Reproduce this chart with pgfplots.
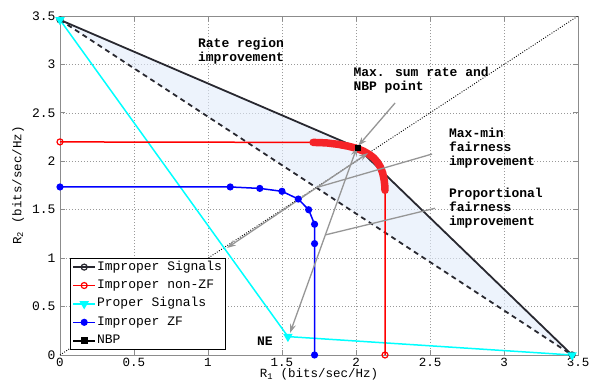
\documentclass[border=0pt]{standalone}
\usepackage{fontspec}
\setmainfont{Liberation Mono}
\usepackage{pgfplots}
\pgfplotsset{compat=1.18}
\usetikzlibrary{arrows.meta}
\definecolor{fillblue}{RGB}{225,235,250}
\definecolor{axgray}{RGB}{140,140,140}
\definecolor{arrgray}{RGB}{150,150,150}
\definecolor{dkline}{RGB}{40,40,48}
\definecolor{arcred}{RGB}{245,35,40}
\definecolor{mcyan}{RGB}{0,255,255}
\begin{document}
\fontsize{13}{14}\selectfont
\begin{tikzpicture}
\begin{axis}[
  at={(0,0)}, anchor=south west,
  scale only axis, width=518pt, height=339pt,
  xmin=0, xmax=3.5, ymin=0, ymax=3.5,
  xtick={0,0.5,1,1.5,2,2.5,3,3.5},
  ytick={0,0.5,1,1.5,2,2.5,3,3.5},
  xticklabels={0,0.5,1,1.5,2,2.5,3,3.5},
  yticklabels={0,0.5,1,1.5,2,2.5,3,3.5},
  grid=major,
  grid style={dash pattern=on 0.8pt off 2.2pt, gray!80, line width=0.7pt},
  axis line style={axgray, line width=0.8pt},
  tick style={axgray, line width=0.8pt},
  major tick length=5pt,
  tick align=inside,
  /pgf/number format/assume math mode=true,
  ticklabel style={font=\fontsize{13}{14}\selectfont},
  x tick label style={font=\fontsize{12.5}{13}\selectfont, inner sep=0pt, yshift=-3pt},
  label style={font=\fontsize{12.5}{13}\selectfont},
  xlabel={R\textsubscript{1} (bits/sec/Hz)},
  ylabel={R\textsubscript{2} (bits/sec/Hz)},
  x label style={at={(axis description cs:0.5,-0.0575)}, anchor=center, inner sep=0pt, text height=8pt, text depth=2pt},
  y label style={at={(axis description cs:-0.081,0.5)}, anchor=center},
  legend style={at={(0.0193,0.0147)}, anchor=south west, draw=black, line width=0.6pt,
    font=\fontsize{13}{14}\selectfont, inner sep=2pt, row sep=4.4pt,
    nodes={inner sep=1pt, text height=9pt, text depth=3pt}},
  legend cell align=left,
  legend image code/.code={\draw[mark repeat=2,mark phase=2,#1] plot coordinates {(0pt,0pt) (11pt,0pt) (22pt,0pt)};},
]
% legend images
\addlegendimage{dkline, line width=1.8pt, mark=o, mark size=3pt, mark options={line width=1.2pt}}
\addlegendentry{Improper Signals}
\addlegendimage{red, line width=1.5pt, mark=o, mark size=3pt, mark options={line width=1.2pt}}
\addlegendentry{Improper non-ZF}
\addlegendimage{mcyan, line width=1.5pt, mark=triangle*, mark size=4pt, mark options={rotate=180}}
\addlegendentry{Proper Signals}
\addlegendimage{blue, line width=1.5pt, mark=*, mark size=2.8pt}
\addlegendentry{Improper ZF}
\addlegendimage{black, line width=1.8pt, mark=square*, mark size=2.5pt}
\addlegendentry{NBP}

% rate region improvement area
\addplot[draw=none, fill=fillblue, fill opacity=0.6, forget plot] coordinates {(0,3.46) (2.01,2.14) (3.46,0) (0,3.46)};
% 45 degree line
\addplot[black, dash pattern=on 0.9pt off 1.6pt, line width=0.9pt, forget plot] coordinates {(0,0) (3.5,3.5)};
% time sharing (dashed)
\addplot[dkline, dash pattern=on 5pt off 4pt, line width=1.8pt, forget plot] coordinates {(0,3.46) (3.46,0)};
% Improper signals
\addplot[dkline, line width=1.8pt, mark=o, mark size=3pt, mark options={line width=1.2pt}, mark indices={1,3}, forget plot] coordinates {(0,3.46) (2.01,2.14) (3.46,0)};
% Proper signals
\addplot[mcyan, line width=1.5pt, mark=triangle*, mark size=4pt, mark options={rotate=180}, forget plot] coordinates {(0,3.46) (1.54,0.19) (3.46,0)};
% Improper non-ZF
\addplot[red, line width=1.5pt, mark=o, mark size=3pt, mark indices={1,16}, mark options={line width=1.2pt, fill=white}, forget plot] coordinates {
(0,2.2) (1.71,2.195) (1.80,2.19) (1.88,2.175) (1.95,2.155) (2.00,2.135) (2.05,2.105) (2.09,2.07) (2.12,2.035) (2.145,1.99) (2.165,1.94) (2.18,1.88) (2.19,1.81) (2.195,1.74) (2.196,1.70) (2.196,0)};
\addplot[arcred, line width=7.5pt, line cap=round, line join=round, forget plot] coordinates {
(1.71,2.195) (1.80,2.19) (1.88,2.175) (1.95,2.155) (2.00,2.135) (2.05,2.105) (2.09,2.07) (2.12,2.035) (2.145,1.99) (2.165,1.94) (2.18,1.88) (2.19,1.81) (2.195,1.74) (2.196,1.70)};
% Improper ZF
\addplot[blue, line width=1.5pt, mark=*, mark size=2.8pt, forget plot] coordinates {
(0,1.735) (1.15,1.735) (1.35,1.72) (1.50,1.69) (1.61,1.61) (1.68,1.50) (1.72,1.35) (1.72,1.15) (1.72,0)};
% arrows
\addplot[arrgray, line width=1.3pt, -{Stealth[length=9pt,width=6pt]}, forget plot] coordinates {(2.264,2.602) (2.014,2.158)};
\addplot[arrgray, line width=1.3pt, forget plot] coordinates {(2.514,2.075) (1.736,1.730)};
\addplot[arrgray, line width=1.3pt, -{Stealth[length=9pt,width=6pt]}, forget plot] coordinates {(1.736,1.730) (1.128,1.105)};
\addplot[arrgray, line width=1.3pt, -{Stealth[length=9pt,width=6pt]}, forget plot] coordinates {(1.736,1.730) (2.081,2.085)};
\addplot[arrgray, line width=1.3pt, forget plot] coordinates {(2.534,1.515) (1.793,1.24)};
\addplot[arrgray, line width=1.3pt, -{Stealth[length=9pt,width=6pt]}, forget plot] coordinates {(1.793,1.24) (1.554,0.227)};
\addplot[arrgray, line width=1.3pt, -{Stealth[length=9pt,width=6pt]}, forget plot] coordinates {(1.793,1.24) (2.007,2.147)};
% NBP
\addplot[black, only marks, mark=square*, mark size=2.5pt, forget plot] coordinates {(2.01,2.14)};
% annotations
\node[anchor=west, align=left, inner sep=0pt, font=\fontsize{13}{14}\selectfont\bfseries] at (axis cs:0.932,3.133) {Rate region\\improvement};
\node[anchor=west, align=left, inner sep=0pt, font=\fontsize{13}{14}\selectfont\bfseries] at (axis cs:1.982,2.842) {Max. sum rate and\\NBP point};
\node[anchor=west, align=left, inner sep=0pt, font=\fontsize{13}{14}\selectfont\bfseries] at (axis cs:2.628,2.132) {Max-min\\fairness\\improvement};
\node[anchor=west, align=left, inner sep=0pt, font=\fontsize{13}{14}\selectfont\bfseries] at (axis cs:2.628,1.520) {Proportional\\fairness\\improvement};
\node[anchor=center, inner sep=0pt, font=\fontsize{13}{14}\selectfont\bfseries] at (axis cs:1.385,0.145) {NE};
\end{axis}
\pgfresetboundingbox
\path[use as bounding box] (-60pt,-26pt) rectangle (537pt,355pt);
\end{tikzpicture}
\end{document}
